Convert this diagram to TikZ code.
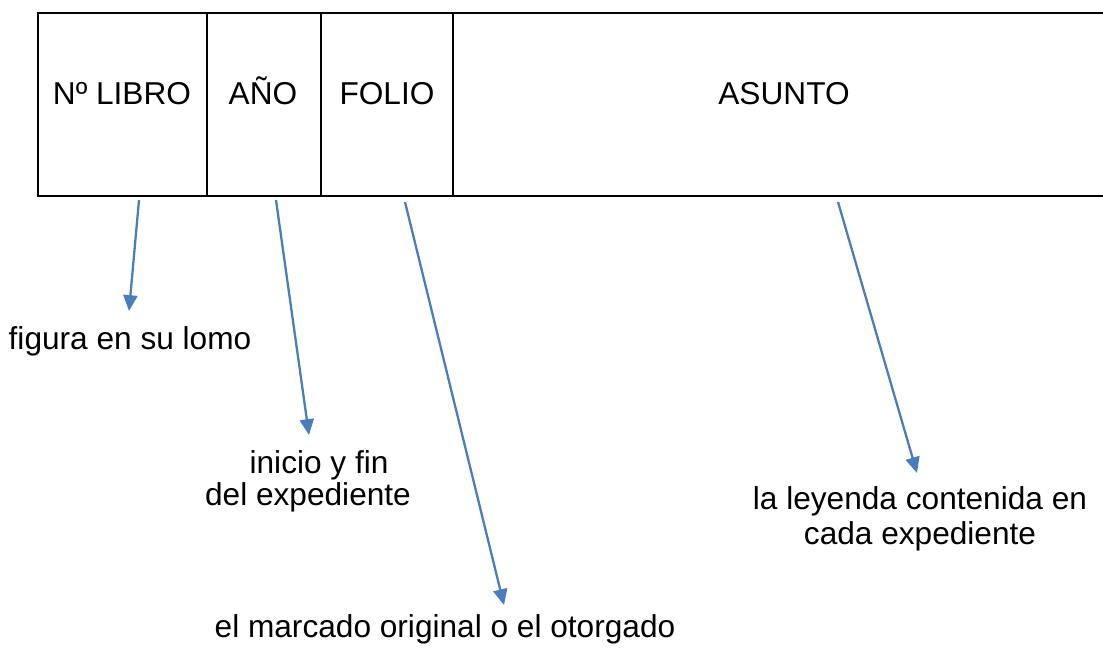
\documentclass[tikz,border=0pt]{standalone}
\usepackage{fontspec}
\setmainfont{Liberation Sans}
\usetikzlibrary{arrows.meta}
\definecolor{arrowblue}{HTML}{4A7EBB}
\tikzset{
  campo/.style={anchor=base, font=\fontsize{18}{20}\selectfont},
  nota/.style={anchor=base, align=center, font=\fontsize{18}{18.2}\selectfont},
  flecha/.style={arrowblue, line width=1.3pt, -{Triangle[length=9pt, width=8pt]}}
}

\begin{document}
\begin{tikzpicture}[x=0.02cm, y=-0.02cm]
  \useasboundingbox (0,0) rectangle (1103,649);
  \draw [line width=1.2pt] (1103,13) -- (38,13) -- (38,196) -- (1103,196);
  \draw [line width=1.2pt] (207,13) -- (207,196);
  \draw [line width=1.2pt] (321,13) -- (321,196);
  \draw [line width=1.2pt] (453,13) -- (453,196);

  \node (libro) [campo] at (122,104) {Nº LIBRO};
  \node (anio) [campo] at (263,104) {AÑO};
  \node (folio) [campo] at (387,104) {FOLIO};
  \node (asunto) [campo] at (784,104) {ASUNTO};

  \node (lomo) [nota] at (130,349) {figura en su lomo};
  \node (inicio) [nota] at (308,505) {\hspace*{0.7em}inicio y fin\\del expediente};
  \node (marcado) [nota] at (445,637) {el marcado original o el otorgado};
  \node (leyenda) [nota, font=\fontsize{18}{19.9}\selectfont] at (920,544) {la leyenda contenida en\\cada expediente};

  \coordinate (sLibro) at (139,200);
  \coordinate (sAnio) at (276,200);
  \coordinate (sFolio) at (405,202);
  \coordinate (sAsunto) at (838,202);
  \coordinate (tLomo) at (129,311);
  \coordinate (tInicio) at (309,435);
  \coordinate (tMarcado) at (504,605);
  \coordinate (tLeyenda) at (917,473);

  \draw [flecha] (sLibro) -- (tLomo);
  \draw [flecha] (sAnio) -- (tInicio);
  \draw [flecha] (sFolio) -- (tMarcado);
  \draw [flecha] (sAsunto) -- (tLeyenda);
\end{tikzpicture}
\end{document}
